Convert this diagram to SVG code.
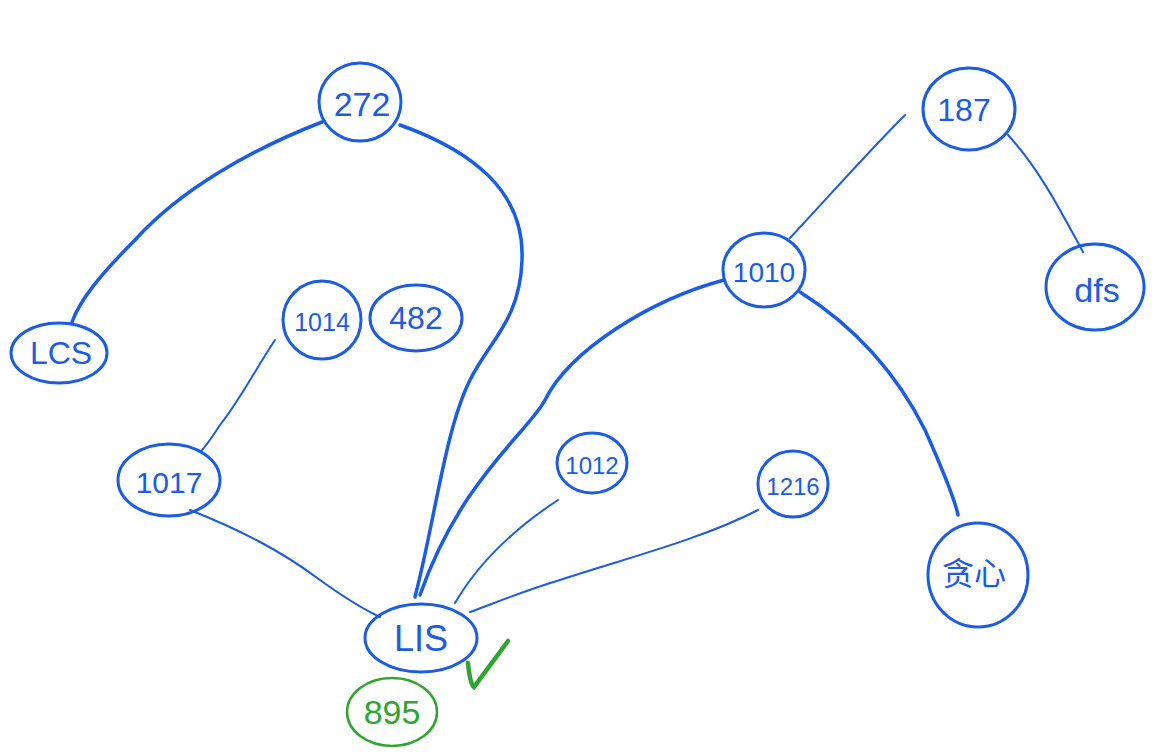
<svg xmlns="http://www.w3.org/2000/svg" width="1164" height="754" viewBox="0 0 1164 754">
<style>
.n{fill:none;stroke:#1b5ce6;stroke-width:3}
.g{fill:none;stroke:#2ea52e;stroke-width:2.5}
.t{font-family:"Liberation Sans","Noto Sans CJK SC",sans-serif;fill:#1b5ce6;text-anchor:middle;dominant-baseline:central}
.tg{font-family:"Liberation Sans",sans-serif;fill:#2ea52e;text-anchor:middle;dominant-baseline:central}
.e{fill:none;stroke:#1b5ce6;stroke-linecap:round}
.thin{stroke-width:2}
.thick{stroke-width:3.5}
</style>
<rect width="1164" height="754" fill="#ffffff"/>
<g id="connectors">
<path class="e thick" d="M322,122 C250,150 180,190 135,240 C100,275 80,300 72,322"/>
<path class="e thick" d="M400,125 C470,150 525,190 522,260 C520,320 490,340 470,380 C445,430 435,520 415,597"/>
<path class="e thick" d="M724,280 C650,300 570,350 545,400 C530,430 460,480 420,595"/>
<path class="e thin" d="M275,340 C255,370 240,400 220,425 C210,440 205,448 200,452"/>
<path class="e thin" d="M190,510 C240,530 280,550 320,580 C345,598 365,610 380,617"/>
<path class="e thin" d="M558,500 C520,525 480,560 455,603"/>
<path class="e thin" d="M758,510 C700,540 620,560 560,580 C520,592 490,605 470,612"/>
<path class="e thin" d="M905,115 C870,150 830,195 790,238"/>
<path class="e thin" d="M1008,135 C1040,170 1060,210 1083,252"/>
<path class="e thick" d="M800,292 C860,330 900,380 925,430 C945,475 955,500 958,515"/>
</g>
<g id="n272"><ellipse class="n" cx="360" cy="102" rx="41" ry="39"/><text class="t" x="362" y="104" font-size="34">272</text></g>
<g id="nLCS"><ellipse class="n" cx="59" cy="353" rx="48" ry="30"/><text class="t" x="61" y="353" font-size="32">LCS</text></g>
<g id="n1014"><ellipse class="n" cx="322" cy="320" rx="39" ry="39"/><text class="t" x="322" y="322" font-size="25">1014</text></g>
<g id="n482"><ellipse class="n" cx="416" cy="318" rx="46" ry="33"/><text class="t" x="416" y="318" font-size="32">482</text></g>
<g id="n1017"><ellipse class="n" cx="169" cy="480" rx="51" ry="36"/><text class="t" x="169" y="482" font-size="30">1017</text></g>
<g id="nLIS"><ellipse class="n" cx="421" cy="638" rx="56" ry="34"/><text class="t" x="421" y="638" font-size="36">LIS</text></g>
<g id="n895"><ellipse class="g" cx="392" cy="712" rx="45" ry="34"/><text class="tg" x="392" y="712" font-size="34">895</text></g>
<g id="check"><path fill="none" stroke="#2ea52e" stroke-width="4.5" stroke-linecap="round" d="M468,663 Q470,684 474,687 L508,641"/></g>
<g id="n1012"><ellipse class="n" cx="592" cy="463" rx="35" ry="30"/><text class="t" x="592" y="465" font-size="24">1012</text></g>
<g id="n1216"><ellipse class="n" cx="793" cy="484" rx="35" ry="33"/><text class="t" x="793" y="486" font-size="24">1216</text></g>
<g id="n187"><ellipse class="n" cx="969" cy="109" rx="46" ry="41"/><text class="t" x="964" y="110" font-size="32">187</text></g>
<g id="ndfs"><ellipse class="n" cx="1095" cy="287" rx="49" ry="43"/><text class="t" x="1097" y="290" font-size="34">dfs</text></g>
<g id="n1010"><ellipse class="n" cx="764" cy="270" rx="41" ry="37"/><text class="t" x="764" y="272" font-size="28">1010</text></g>
<g id="ngreedy"><ellipse class="n" cx="978" cy="575" rx="50" ry="52"/><text class="t" x="974" y="574" font-size="32">贪心</text></g>
</svg>
